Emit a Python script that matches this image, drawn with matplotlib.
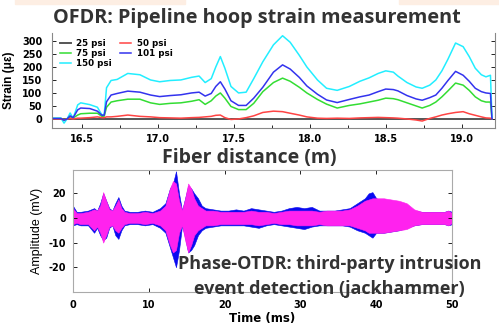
import matplotlib
matplotlib.use('Agg')
import numpy as np
import matplotlib.pyplot as plt
from matplotlib.ticker import MultipleLocator
from matplotlib.patches import Rectangle

# ---- OFDR hoop strain (micro-strain) vs fiber distance (m)
dist = [16.30, 16.36, 16.38, 16.40, 16.42, 16.44, 16.47, 16.49, 16.55, 16.60,
        16.63, 16.645, 16.66, 16.69, 16.73, 16.80, 16.88, 16.95, 17.01, 17.08,
        17.15, 17.22, 17.27, 17.31, 17.35, 17.38, 17.41, 17.44, 17.48, 17.53,
        17.58, 17.63, 17.69, 17.76, 17.82, 17.87, 17.93, 17.98, 18.05, 18.11,
        18.18, 18.26, 18.33, 18.39, 18.45, 18.50, 18.55, 18.58, 18.64, 18.70,
        18.74, 18.79, 18.83, 18.87, 18.91, 18.96, 19.01, 19.05, 19.09, 19.13,
        19.16, 19.19, 19.20]

psi25 = [0] * len(dist)
psi50 = [0, 0, -3, 0, 2, 0, 3, 3, 5, 8,
         5, 5, 8, 8, 10, 15, 10, 8, 5, 4,
         3, 5, 6, 8, 10, 14, 15, 5, -2, 0,
         5, 12, 25, 30, 28, 22, 15, 8, 3, 2,
         3, 2, 4, 5, 6, 5, 4, 3, 0, -4,
         -8, 2, 8, 15, 20, 25, 28, 20, 14, 8,
         4, 3, 0]
psi75 = [2, 2, -3, 0, 8, 4, 15, 20, 22, 22,
         10, 11, 45, 65, 70, 76, 76, 62, 56, 60,
         62, 68, 74, 56, 70, 88, 100, 80, 48, 36,
         36, 60, 105, 140, 157, 145, 122, 100, 75, 57,
         42, 52, 58, 65, 72, 80, 78, 74, 62, 50,
         42, 52, 65, 85, 108, 138, 130, 110, 85, 70,
         65, 65, 0]
psi101 = [2, 2, -5, 0, 12, 5, 35, 42, 40, 30,
          14, 15, 66, 92, 98, 107, 103, 92, 86, 90,
          93, 100, 103, 88, 98, 125, 143, 115, 70, 52,
          52, 80, 122, 180, 208, 192, 160, 127, 95, 73,
          63, 75, 85, 92, 105, 115, 113, 108, 90, 77,
          72, 82, 92, 118, 148, 183, 168, 145, 118, 105,
          100, 98, 0]
psi150 = [3, 3, -16, 0, 23, 3, 54, 62, 55, 45,
          15, 18, 120, 148, 152, 175, 170, 150, 143, 148,
          150, 160, 165, 140, 155, 200, 240, 195, 125, 100,
          103, 155, 220, 285, 320, 295, 245, 200, 150, 118,
          110, 125, 145, 158, 175, 185, 180, 165, 140, 123,
          118, 130, 150, 185, 230, 292, 278, 240, 195, 170,
          162, 168, 5]

# ---- Phase-OTDR trace envelope (mV) vs time (ms)
t_ms = [0, 0.5, 1, 2, 2.8, 3.2, 3.6, 4.0, 4.4, 4.8, 5.2, 5.6, 6.0, 6.4, 6.8,
        7.5, 8.5, 9.5, 10.5, 11.5, 12.2, 12.8, 13.2, 13.6, 14.0, 14.4, 14.8,
        15.2, 15.6, 16.0, 16.5, 17.0, 17.5, 18.5, 19.5, 20.5, 21.5, 22.5,
        23.5, 24.5, 25.5, 26.5, 27.5, 28.5, 29.5, 30.5, 31.5, 32.5, 33.5,
        34.5, 35.5, 36.5, 37.5, 38.5, 39.0, 39.5, 40.0, 41.0, 42.0, 43.0,
        44.0, 45.0, 46.0, 47.0, 48.0, 49.0, 49.5, 50.0]
blue_hi = [5, 2.5, 2.5, 3, 4, 3, 6, 10, 7, 4, 3, 6, 8.5, 5, 3,
           2.5, 2.5, 3, 2.5, 4, 6, 12, 14, 19, 10, 3, 8,
           13, 12, 10, 8, 5, 4, 3.5, 3, 3, 3.5, 3,
           4, 3.5, 3, 2.5, 3, 4, 4.5, 4, 4.5, 3, 3,
           3, 3.5, 4, 6, 8, 10, 10.5, 8, 7, 6.5, 6,
           5, 3, 2.5, 2.5, 2.5, 2.5, 3, 2.5]
blue_lo = [-3, -2.5, -3, -3, -6, -4, -7, -9, -8, -4, -3, -7, -8.5, -5, -3,
           -2.5, -2.5, -3, -2.5, -4, -6, -12, -16, -20, -13, -3, -8,
           -14, -13, -11, -7, -5, -4, -3.5, -3, -3, -3, -3,
           -3.5, -4, -3, -2.5, -3, -3.5, -4, -4.5, -3.5, -3, -3,
           -3, -3, -3.5, -5, -6, -7, -8, -6, -6, -5.5, -5,
           -4, -3, -2.5, -2.5, -2.5, -2.5, -3, -2.5]
mag_hi = [4, 2, 2, 2.5, 3.5, 3, 5, 10.5, 7, 3.5, 3, 5, 7.5, 4, 2.5,
          2, 2, 2.5, 2, 3, 5, 12, 15, 14, 7, 3, 8,
          14, 12, 8, 5, 4, 3, 3, 2.5, 2.5, 2.5, 2.5,
          3, 2.5, 2.5, 2, 2.5, 3, 3, 3, 3, 2.5, 3,
          3, 3, 3.5, 5, 7, 7.5, 8, 8, 8, 7.5, 7,
          6, 3.5, 2.5, 2.5, 2.5, 2.5, 3, 2]
mag_lo = [-2.5, -2, -2.5, -2.5, -5, -3.5, -6, -10, -7, -3.5, -3, -5, -6, -4, -2.5,
          -2, -2, -2.5, -2, -3, -5, -11, -14, -13, -6, -3, -9,
          -14, -11, -7, -5, -4, -3, -3, -2.5, -2.5, -2.5, -2.5,
          -2.5, -3, -2.5, -2, -2.5, -2.5, -3, -3, -3, -2.5, -3,
          -3, -3, -3, -4, -5, -6, -6, -6, -6, -5.5, -5,
          -4.5, -3, -2.5, -2.5, -2.5, -2.5, -3, -2]

tickfont = {'family': 'DejaVu Sans', 'weight': 'bold', 'size': 7}
textcol = '#333333'

fig = plt.figure(figsize=(4.99, 3.25), dpi=100)
fig.patch.set_facecolor('white')

# faint peach band along the top edge (slide background)
fig.patches.append(Rectangle((0.03, 0.988), 0.34, 0.015, transform=fig.transFigure,
                             color='#fdeee3', zorder=0))
fig.patches.append(Rectangle((0.80, 0.988), 0.20, 0.015, transform=fig.transFigure,
                             color='#fdeee3', zorder=0))

# ---- top panel
ax1 = fig.add_axes([0.104, 0.606, 0.888, 0.292])
ax1.plot(dist, psi25, color='#555555', lw=1.4, label='25 psi')
ax1.plot(dist, psi75, color='#33dd33', lw=1.1, label='75 psi')
ax1.plot(dist, psi150, color='#22eeff', lw=1.1, label='150 psi')
ax1.plot(dist, psi50, color='#ff4444', lw=1.1, label='50 psi')
ax1.plot(dist, psi101, color='#3333ee', lw=1.1, label='101 psi')
ax1.set_ylim(-35, 330)
ax1.set_yticks(range(0, 301, 50))
ax1.set_yticklabels([str(v) for v in range(0, 301, 50)], fontdict=tickfont)
ax1.set_xticks([16.5, 17.0, 17.5, 18.0, 18.5, 19.0])
ax1.set_xticklabels(['16.5', '17.0', '17.5', '18.0', '18.5', '19.0'], fontdict=tickfont)
ax1.xaxis.set_minor_locator(MultipleLocator(0.25))
ax1.set_xlim(16.30, 19.22)
ax1.tick_params(direction='in', length=3, width=0.6, pad=4)
ax1.tick_params(which='minor', direction='in', length=2, width=0.6)
ax1.tick_params(axis='y', right=True, pad=7)
ax1.spines['top'].set_visible(False)
for s in ['left', 'bottom', 'right']:
    ax1.spines[s].set_color('#888888')
    ax1.spines[s].set_linewidth(0.8)
ax1.set_ylabel('Strain (\u03bc\u03b5)', fontsize=8.5, fontweight='bold',
               family='Liberation Sans', labelpad=5)
h, l = ax1.get_legend_handles_labels()
ax1.legend(h, l, ncol=2, loc='upper left', bbox_to_anchor=(0.0, 1.02), frameon=False,
           prop={'family': 'DejaVu Sans', 'weight': 'bold', 'size': 6.3},
           handlelength=1.3, columnspacing=0.9, labelspacing=0.1, handletextpad=0.6)

fig.text(0.515, 0.945, 'OFDR: Pipeline hoop strain measurement', ha='center', va='center',
         fontsize=14.3, fontweight='bold', family='Open Sans', color=textcol)
fig.text(0.50, 0.515, 'Fiber distance (m)', ha='center', va='center',
         fontsize=14, fontweight='bold', family='Open Sans', color=textcol)

# ---- bottom panel
ax2 = fig.add_axes([0.146, 0.102, 0.760, 0.375])
ax2.fill_between(t_ms, blue_lo, blue_hi, color='#0a0af0', lw=0.4, edgecolor='#0a0af0')
ax2.fill_between(t_ms, mag_lo, mag_hi, color='#ff22ee', lw=0.4, edgecolor='#ff22ee')
ax2.set_xlim(0, 50)
ax2.set_ylim(-30, 19.5)
ax2.set_xticks(range(0, 51, 10))
ax2.set_xticklabels(['0', '10', '20', '30', '40', '50'], fontdict=tickfont)
ax2.set_yticks([10, 0, -10, -20])
ax2.set_yticklabels(['20', '0', '-10', '-20'], fontdict=tickfont)
ax2.tick_params(direction='in', length=3, width=0.6, top=True, right=True)
ax2.tick_params(axis='x', pad=6)
ax2.tick_params(axis='y', pad=5)
for s in ax2.spines.values():
    s.set_color('#aaaaaa')
    s.set_linewidth(0.8)
ax2.set_ylabel('Amplitude (mV)', fontsize=9, family='Liberation Sans', labelpad=4)
ax2.set_xlabel('Time (ms)', fontsize=8.5, fontweight='bold', family='DejaVu Sans',
               labelpad=1)

fig.text(0.66, 0.150, 'Phase-OTDR: third-party intrusion\nevent detection (jackhammer)',
         ha='center', va='center', fontsize=13, fontweight='bold', family='Open Sans',
         color=textcol, linespacing=1.5, zorder=5)

plt.savefig('out.png', dpi=100)
